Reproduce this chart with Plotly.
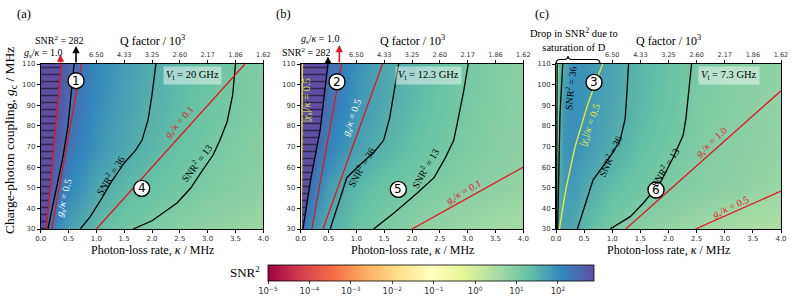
import plotly.graph_objects as go

W, H = 793, 305

# ---------------- data ----------------
kappa_grid = [0.0, 0.05, 0.15, 0.3, 0.5, 1.0, 1.5, 2.0, 2.5, 3.0, 3.5, 4.0]
gc_grid = [30, 50, 70, 90, 110]

log_snr2_a = [
    [2.87, 2.87, 2.38, 2.01, 1.75, 1.39, 1.18, 1.03, 0.91, 0.81, 0.73, 0.66],
    [2.87, 2.87, 2.83, 2.41, 2.09, 1.66, 1.43, 1.27, 1.15, 1.04, 0.96, 0.89],
    [2.87, 2.87, 2.87, 2.68, 2.35, 1.92, 1.66, 1.46, 1.28, 1.14, 1.02, 0.91],
    [2.87, 2.87, 2.87, 2.82, 2.47, 2.01, 1.74, 1.54, 1.37, 1.22, 1.10, 0.99],
    [2.87, 2.87, 2.87, 2.87, 2.58, 2.08, 1.79, 1.58, 1.40, 1.25, 1.11, 1.00],
]
log_snr2_b = [
    [2.60, 2.37, 1.99, 1.75, 1.58, 1.25, 1.05, 0.89, 0.78, 0.68, 0.60, 0.53],
    [2.87, 2.87, 2.49, 2.09, 1.80, 1.43, 1.25, 1.11, 1.01, 0.92, 0.85, 0.78],
    [2.87, 2.87, 2.85, 2.45, 2.15, 1.75, 1.51, 1.32, 1.17, 1.04, 0.94, 0.85],
    [2.87, 2.87, 2.87, 2.69, 2.35, 1.89, 1.63, 1.41, 1.23, 1.09, 0.98, 0.87],
    [2.87, 2.87, 2.87, 2.79, 2.44, 1.95, 1.67, 1.45, 1.27, 1.12, 0.99, 0.88],
]
log_snr2_c = [
    [0.30, 1.62, 1.74, 1.67, 1.43, 1.10, 0.91, 0.77, 0.66, 0.58, 0.50, 0.43],
    [0.30, 1.60, 1.82, 1.85, 1.65, 1.35, 1.18, 1.05, 0.94, 0.86, 0.79, 0.72],
    [0.30, 1.56, 1.90, 1.95, 1.88, 1.60, 1.33, 1.16, 1.02, 0.92, 0.84, 0.77],
    [0.30, 1.45, 1.90, 1.98, 1.92, 1.68, 1.43, 1.24, 1.07, 0.96, 0.87, 0.80],
    [0.30, 1.30, 1.62, 1.95, 1.93, 1.70, 1.45, 1.27, 1.09, 0.98, 0.88, 0.80],
]

# contour lines (kappa, g_c)
a_snr282_k = [0.13, 0.28, 0.40, 0.49, 0.55, 0.60]
a_snr282_g = [30, 50, 65, 80, 95, 110]
a_snr36_k = [0.71, 0.89, 1.10, 1.25, 1.50, 1.70, 1.82, 1.93, 2.00, 2.07]
a_snr36_g = [30, 36, 45, 52, 62, 68, 73, 83, 95, 110]
a_snr13_k = [1.66, 2.00, 2.45, 2.70, 2.87, 3.10, 3.22, 3.35, 3.45, 3.50]
a_snr13_g = [30, 34, 42.6, 50, 57, 66, 73, 82, 95, 110]
a_gs01_k, a_gs01_g = [1.0, 3.67], [30, 110]
a_gs05_k, a_gs05_g = [0.2, 0.733], [30, 110]
a_gs10_k, a_gs10_g = [0.1, 0.367], [30, 110]

b_snr282_k = [0.04, 0.18, 0.35, 0.42, 0.49]
b_snr282_g = [30, 54, 78, 94, 110]
b_snr36_k = [0.53, 0.65, 0.83, 1.10, 1.31, 1.49, 1.60, 1.68, 1.76]
b_snr36_g = [30, 40, 55, 62, 67, 73, 84, 97, 110]
b_snr13_k = [1.31, 1.67, 2.09, 2.40, 2.60, 2.75, 2.83, 2.93, 3.01]
b_snr13_g = [30, 37.6, 47.3, 55, 64.6, 73, 83.5, 97, 110]
b_gs01_k, b_gs01_g = [2.0, 4.0], [30, 60]
b_gs05_k, b_gs05_g = [0.4, 1.47], [30, 110]
b_gs10_k, b_gs10_g = [0.2, 0.733], [30, 110]
b_chi_k, b_chi_g = [0.01, 0.02, 0.03], [30, 80, 110]

c_snr13l_k, c_snr13l_g = [0.01, 0.015, 0.02], [30, 70, 110]
c_snr36l_k, c_snr36l_g = [0.03, 0.05, 0.07, 0.12], [30, 60, 85, 110]
c_snr36_k = [0.38, 0.50, 0.66, 0.85, 0.96, 1.14, 1.23, 1.26, 1.29]
c_snr36_g = [30, 40, 53.8, 61, 65, 73, 83.5, 96, 110]
c_snr13_k = [0.96, 1.32, 1.55, 1.85, 2.09, 2.26, 2.31, 2.36, 2.41]
c_snr13_g = [30, 36, 42.5, 52.2, 65, 75.4, 83.5, 96, 110]
c_gs10_k, c_gs10_g = [1.24, 4.0], [30, 97]
c_gs05_k, c_gs05_g = [2.48, 4.0], [30, 48.4]
c_chi_k = [0.06, 0.12, 0.18, 0.26, 0.34, 0.45, 0.56, 0.69, 0.83]
c_chi_g = [30, 40, 50, 60, 70, 80, 90, 100, 110]

q_tick_kappa = [1.0, 1.5, 2.0, 2.5, 3.0, 3.5, 4.0]
q_tick_text = ["6.50", "4.33", "3.25", "2.60", "2.17", "1.86", "1.62"]
cbar_ticks = [-5, -4, -3, -2, -1, 0, 1, 2]
cbar_text = ["10<sup>\u22125</sup>", "10<sup>\u22124</sup>", "10<sup>\u22123</sup>", "10<sup>\u22122</sup>",
             "10<sup>\u22121</sup>", "10<sup>0</sup>", "10<sup>1</sup>", "10<sup>2</sup>"]

# ---------------- styling ----------------
SERIF = "Liberation Serif"
SANS = "DejaVu Sans"
RED = "#e8141c"
YEL = "#e6e63a"
SPECTRAL = ['#9e0142', '#d53e4f', '#f46d43', '#fdae61', '#fee08b', '#ffffbf',
            '#e6f598', '#abdda4', '#66c2a5', '#3288bd', '#5e4fa2']
ZMIN, ZMAX = -5, 2.87

def PX(x):
    return x / W

def PY(y):
    return 1 - y / H

xdoms = [(40.7, 263.3), (300.7, 523.3), (556.0, 781.0)]
ydom = [PY(229), PY(64)]

fig = go.Figure()
ann = []
shapes = []

def add_line(k, g, ax, color="black", width=1.3):
    fig.add_trace(go.Scatter(x=k, y=g, mode="lines", line=dict(color=color, width=width),
                             xaxis=ax[0], yaxis=ax[1], showlegend=False, hoverinfo="skip"))

def add_hatch(k, g, ax):
    xs = [0.0] + list(k) + [0.0]
    ys = [g[0]] + list(g) + [g[-1]]
    fig.add_trace(go.Scatter(x=xs, y=ys, mode="lines", fill="toself", fillcolor="#5e4fa2",
                             fillpattern=dict(shape="-", fgcolor="black", bgcolor="#5e4fa2",
                                              size=7, solidity=0.22),
                             line=dict(width=0), xaxis=ax[0], yaxis=ax[1],
                             showlegend=False, hoverinfo="skip"))

def label(ax, x, y, text, angle=0, color="black", size=10, font=SERIF):
    ann.append(dict(xref=ax[0], yref=ax[1], x=x, y=y, text=text, textangle=angle,
                    xanchor="center", yanchor="middle",
                    showarrow=False, font=dict(family=font, size=size, color=color)))

def circle(ax, x, y, num):
    shapes.append(dict(type="circle", xref=ax[0], yref=ax[1], xsizemode="pixel", ysizemode="pixel",
                       xanchor=x, yanchor=y, x0=-8, x1=8, y0=-8, y1=8,
                       fillcolor="white", line=dict(color="black", width=1.4)))
    ann.append(dict(xref=ax[0], yref=ax[1], x=x, y=y, text=num, showarrow=False,
                    xanchor="center", yanchor="middle",
                    font=dict(family=SANS, size=12, color="black")))

def vbox(ax, x, y, text):
    ann.append(dict(xref=ax[0], yref=ax[1], x=x, y=y, text=text, showarrow=False,
                    xanchor="center", yanchor="middle",
                    bgcolor="rgba(255,255,255,0.45)", borderpad=2,
                    font=dict(family=SERIF, size=10.5, color="black")))

def arrow(ax, x, y0, y1, color):
    ann.append(dict(xref=ax[0], yref=ax[1], axref=ax[0], ayref=ax[1], x=x, y=y1, ax=x, ay=y0,
                    showarrow=True, arrowhead=2, arrowsize=0.9, arrowwidth=1.6, arrowcolor=color,
                    text=""))

def ptext(x, y, text, size=11, angle=0):
    ann.append(dict(xref="paper", yref="paper", x=PX(x), y=PY(y), text=text, showarrow=False,
                    xanchor="center", yanchor="middle",
                    textangle=angle, font=dict(family=SERIF, size=size, color="black")))

axes = [("x", "y"), ("x2", "y2"), ("x3", "y3")]
grids = [log_snr2_a, log_snr2_b, log_snr2_c]

for i, ax in enumerate(axes):
    fig.add_trace(go.Heatmap(x=kappa_grid, y=gc_grid, z=grids[i], zsmooth="best",
                             coloraxis="coloraxis", xaxis=ax[0], yaxis=ax[1], hoverinfo="skip"))

# panel (a)
A = axes[0]
add_hatch(a_gs10_k, a_gs10_g, A)
add_line(a_snr282_k, a_snr282_g, A)
add_line(a_snr36_k, a_snr36_g, A)
add_line(a_snr13_k, a_snr13_g, A)
add_line(a_gs10_k, a_gs10_g, A, RED)
add_line(a_gs05_k, a_gs05_g, A, RED)
add_line(a_gs01_k, a_gs01_g, A, RED)

# panel (b)
B = axes[1]
add_hatch(b_snr282_k, b_snr282_g, B)
add_line(b_chi_k, b_chi_g, B, YEL, 1.4)
add_line(b_snr282_k, b_snr282_g, B)
add_line(b_snr36_k, b_snr36_g, B)
add_line(b_snr13_k, b_snr13_g, B)
add_line(b_gs10_k, b_gs10_g, B, RED)
add_line(b_gs05_k, b_gs05_g, B, RED)
add_line(b_gs01_k, b_gs01_g, B, RED)

# panel (c)
C = axes[2]
add_line(c_snr13l_k, c_snr13l_g, C)
add_line(c_snr36l_k, c_snr36l_g, C)
add_line(c_snr36_k, c_snr36_g, C)
add_line(c_snr13_k, c_snr13_g, C)
add_line(c_chi_k, c_chi_g, C, YEL, 1.4)
add_line(c_gs10_k, c_gs10_g, C, RED)
add_line(c_gs05_k, c_gs05_g, C, RED)

# dummy traces for the top axes
for j, t in enumerate(["x4", "x5", "x6"]):
    fig.add_trace(go.Scatter(x=[None], y=[None], xaxis=t, yaxis=axes[j][1], showlegend=False))

GS = "<i>g</i><sub>s</sub>/<i>\u03ba</i> = "
SNR = "SNR<sup>2</sup> = "
CHI = "|<i>\u03c7</i><sub>s</sub>|/<i>\u03ba</i> = 0.5"

# labels (a)
label(A, 2.50, 81.4, GS + "0.1", -48, RED, 10)
label(A, 1.25, 56.2, SNR + "36", -58, "black", 10)
label(A, 2.80, 61.8, SNR + "13", -53, "black", 10)
label(A, 0.42, 45.0, GS + "0.5", -76, "white", 10)
circle(A, 0.635, 101.9, "1")
circle(A, 1.815, 49.7, "4")
vbox(A, 2.73, 104.4, "<i>V</i><sub>t</sub> = 20 GHz")
arrow(A, 0.635, 110, 118.7, "black")
arrow(A, 0.356, 110, 114.6, RED)

# labels (b)
label(B, 0.92, 83.8, GS + "0.5", -70, "white", 10)
label(B, 1.084, 60.1, SNR + "36", -60, "black", 10)
label(B, 2.234, 59.6, SNR + "13", -60, "black", 10)
label(B, 2.934, 47.5, GS + "0.1", -29, RED, 10)
label(B, 0.113, 92.5, CHI, -90, YEL, 10.5)
circle(B, 0.652, 101.4, "2")
circle(B, 1.754, 49.2, "5")
vbox(B, 2.305, 104.4, "<i>V</i><sub>t</sub> = 12.3 GHz")
arrow(B, 0.694, 110, 119.2, RED)
arrow(B, 0.49, 110, 113.6, "black")

# labels (c)
label(C, 0.249, 98.4, SNR + "36", -84, "black", 10)
label(C, 0.604, 80.4, CHI, -70, YEL, 10.5)
label(C, 0.96, 65.4, SNR + "36", -66, "black", 10)
label(C, 1.938, 60.0, SNR + "13", -58, "black", 10)
label(C, 2.773, 71.7, GS + "1.0", -42, RED, 10)
label(C, 3.11, 40.2, GS + "0.5", -24, RED, 10)
circle(C, 0.676, 101.1, "3")
circle(C, 1.778, 48.9, "6")
vbox(C, 3.076, 104.4, "<i>V</i><sub>t</sub> = 7.3 GHz")

# texts outside plots
ptext(59, 40, SNR + "282", 10)
ptext(43, 53, GS + "1.0", 10)
ptext(320, 39.5, GS + "1.0", 10)
ptext(306, 52.5, SNR + "282", 10)
ptext(574, 39.5, "Drop in SNR<sup>2</sup> due to<br>saturation of D", 10.5)
for (x0, x1) in xdoms:
    ptext((x0 + x1) / 2, 40, "Q factor / 10<sup>3</sup>", 12)
    ptext((x0 + x1) / 2, 250, "Photon-loss rate, <i>\u03ba</i> / MHz", 12)
ptext(10, 141, "Charge-photon coupling, <i>g</i><sub>c</sub> / MHz", 13.5, -90)
ptext(23.5, 14, "(a)", 12.5)
ptext(283.5, 14, "(b)", 12.5)
ptext(541.5, 14, "(c)", 12.5)
ptext(245, 272, "SNR<sup>2</sup>", 13)

# curly brace
pts = [(556, 64), (556, 59.5), (560, 59.5), (564, 59.5), (568, 59.5), (568, 56), (568, 59.5),
       (572, 59.5), (596, 59.5), (600, 59.5), (600, 64)]
P = [(PX(a), PY(b)) for a, b in pts]
path = ("M {0[0]},{0[1]} Q {1[0]},{1[1]} {2[0]},{2[1]} L {3[0]},{3[1]} Q {4[0]},{4[1]} {5[0]},{5[1]} "
        "Q {6[0]},{6[1]} {7[0]},{7[1]} L {8[0]},{8[1]} Q {9[0]},{9[1]} {10[0]},{10[1]}").format(*P)
shapes.append(dict(type="path", xref="paper", yref="paper", path=path,
                   line=dict(color="black", width=1.2)))

tickfont = dict(family=SANS, size=7, color="#333")
layout = dict(
    width=W, height=H, margin=dict(l=0, r=0, t=0, b=0, autoexpand=False),
    paper_bgcolor="white", plot_bgcolor="white", showlegend=False,
    annotations=ann, shapes=shapes,
    coloraxis=dict(colorscale=[[i / 10, c] for i, c in enumerate(SPECTRAL)], cmin=ZMIN, cmax=ZMAX,
                   colorbar=dict(orientation="h", x=PX(431), xanchor="center", y=PY(265),
                                 yanchor="top", len=326 / W, lenmode="fraction", thickness=16,
                                 outlinewidth=0.8, outlinecolor="black", tickvals=cbar_ticks,
                                 ticktext=cbar_text, ticks="outside", ticklen=3, xpad=0, ypad=0,
                                 tickfont=dict(family=SANS, size=8.5, color="#333"))),
)
for i, (x0, x1) in enumerate(xdoms):
    n = "" if i == 0 else str(i + 1)
    layout["xaxis" + n] = dict(domain=[PX(x0), PX(x1)], range=[0, 4], anchor="y" + n,
                               tickvals=[0, 0.5, 1, 1.5, 2, 2.5, 3, 3.5, 4],
                               ticktext=["0.0", "0.5", "1.0", "1.5", "2.0", "2.5", "3.0", "3.5", "4.0"],
                               ticks="outside", ticklen=3, tickwidth=0.8, tickcolor="black",
                               showline=True, linecolor="black", linewidth=0.8, mirror=True,
                               showgrid=False, zeroline=False, tickfont=tickfont)
    layout["yaxis" + n] = dict(domain=ydom, range=[30, 110], anchor="x" + n,
                               tickvals=[30, 40, 50, 60, 70, 80, 90, 100, 110],
                               ticks="outside", ticklen=3, tickwidth=0.8, tickcolor="black",
                               showline=True, linecolor="black", linewidth=0.8, mirror=True,
                               showgrid=False, zeroline=False, tickfont=tickfont)
    layout["xaxis" + str(i + 4)] = dict(overlaying="x" + n, side="top", range=[0, 4], anchor="y" + n,
                                        tickvals=q_tick_kappa, ticktext=q_tick_text,
                                        ticks="outside", ticklen=3, tickwidth=0.8, tickcolor="black",
                                        showgrid=False, zeroline=False, showline=False,
                                        tickfont=dict(family=SANS, size=6.5, color="#333"))
fig.update_layout(**layout)
fig.write_html("out.html", config={"displayModeBar": False},
               post_script="document.body.style.margin='0px';document.body.style.overflow='hidden';")
